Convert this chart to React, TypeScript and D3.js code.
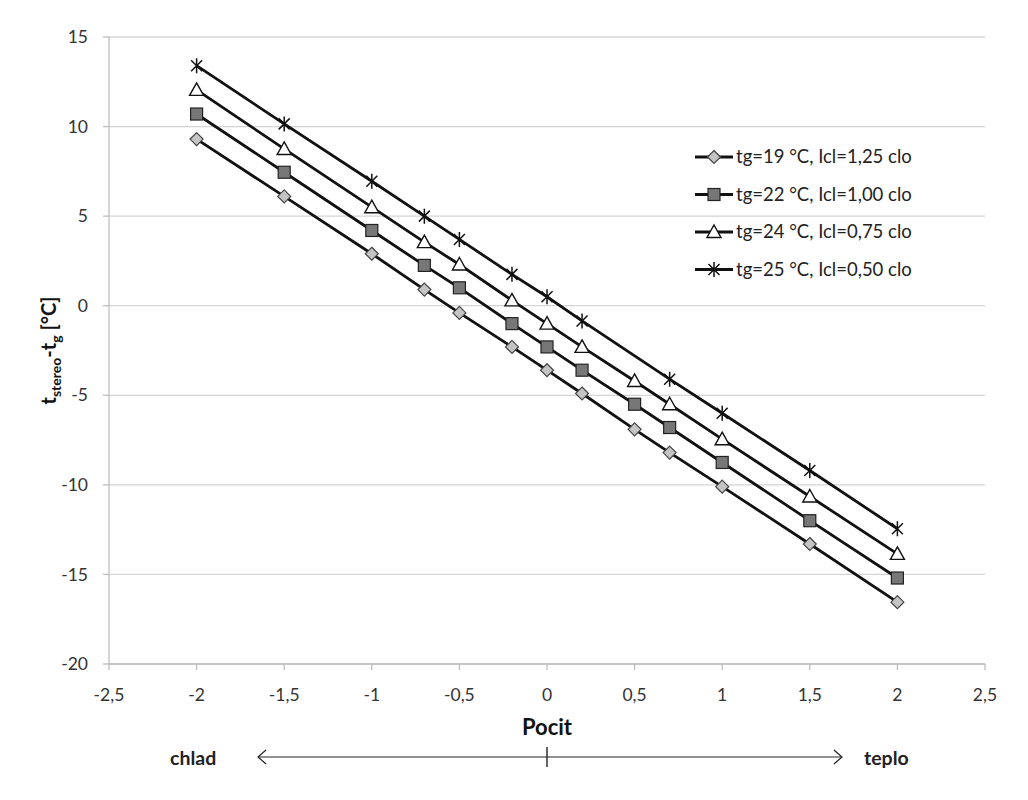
import * as d3 from "d3"

// pocit (x) a rozdíl teplot pro jednotlivé řady
const pocit = [-2, -1.5, -1, -0.7, -0.5, -0.2, 0, 0.2, 0.5, 0.7, 1, 1.5, 2]
const pocitStar = [-2, -1.5, -1, -0.7, -0.5, -0.2, 0, 0.2, 0.7, 1, 1.5, 2]

const s19 = [9.3, 6.1, 2.9, 0.9, -0.4, -2.3, -3.6, -4.9, -6.9, -8.2, -10.1, -13.3, -16.55]
const s22 = [10.7, 7.45, 4.2, 2.25, 1.0, -1.0, -2.3, -3.6, -5.5, -6.8, -8.75, -12.0, -15.2]
const s24 = [12.05, 8.75, 5.5, 3.55, 2.3, 0.3, -1.0, -2.3, -4.2, -5.5, -7.45, -10.65, -13.85]
const s25 = [13.4, 10.15, 6.95, 5.0, 3.7, 1.75, 0.5, -0.85, -4.1, -6.0, -9.2, -12.45]

const legendLabels = [
  "tg=19 °C, Icl=1,25 clo",
  "tg=22 °C, Icl=1,00 clo",
  "tg=24 °C, Icl=0,75 clo",
  "tg=25 °C, Icl=0,50 clo",
]

const xTicks = [-2.5, -2, -1.5, -1, -0.5, 0, 0.5, 1, 1.5, 2, 2.5]
const yTicks = [15, 10, 5, 0, -5, -10, -15, -20]

const W = 1028
const H = 800
const margin = { top: 37, right: 43, bottom: 136, left: 109 }
const font = "Lato, 'Open Sans', sans-serif"

const x = d3.scaleLinear().domain([-2.5, 2.5]).range([margin.left, W - margin.right])
const y = d3.scaleLinear().domain([-20, 15]).range([H - margin.bottom, margin.top])

const fmt = (v: number) => String(v).replace(".", ",")

type Kind = "diamond" | "square" | "triangle" | "star"

function Marker({ kind, cx, cy }: { kind: Kind; cx: number; cy: number }) {
  if (kind === "diamond")
    return <path d={`M${cx},${cy - 6.5}L${cx + 6.5},${cy}L${cx},${cy + 6.5}L${cx - 6.5},${cy}Z`} fill="#c4c4c4" stroke="#444" strokeWidth={1.2} />
  if (kind === "square")
    return <rect x={cx - 6} y={cy - 6} width={12} height={12} fill="#777" stroke="#222" strokeWidth={1.2} />
  if (kind === "triangle")
    return <path d={`M${cx},${cy - 7}L${cx + 7},${cy + 5.5}L${cx - 7},${cy + 5.5}Z`} fill="#fff" stroke="#111" strokeWidth={1.4} />
  return (
    <path
      d={`M${cx - 5.5},${cy - 5.5}L${cx + 5.5},${cy + 5.5}M${cx - 5.5},${cy + 5.5}L${cx + 5.5},${cy - 5.5}M${cx},${cy - 7.5}L${cx},${cy + 7.5}`}
      stroke="#111"
      strokeWidth={1.5}
      fill="none"
    />
  )
}

const series: { xs: number[]; ys: number[]; kind: Kind }[] = [
  { xs: pocit, ys: s19, kind: "diamond" },
  { xs: pocit, ys: s22, kind: "square" },
  { xs: pocit, ys: s24, kind: "triangle" },
  { xs: pocitStar, ys: s25, kind: "star" },
]

export default function App() {
  const line = d3.line<[number, number]>().x(d => x(d[0])).y(d => y(d[1]))
  const x0 = x(-2.5)
  const y0 = y(-20)
  const arrowY = 757
  const ax1 = 258
  const ax2 = 842
  const xMid = x(0)

  return (
    <svg width={W} height={H} style={{ position: "absolute", left: 0, top: 0, background: "#fff" }}>
      <rect width={W} height={H} fill="#fff" />
      {/* mřížka */}
      {yTicks.map(t => (
        <line key={t} x1={x0} x2={x(2.5)} y1={y(t)} y2={y(t)} stroke="#d4d4d4" strokeWidth={1.3} />
      ))}
      {/* osy */}
      <line x1={x0} x2={x0} y1={y(15)} y2={y0} stroke="#bdbdbd" strokeWidth={1.3} />
      <line x1={x0} x2={x(2.5)} y1={y0} y2={y0} stroke="#bdbdbd" strokeWidth={1.3} />
      {yTicks.map(t => (
        <g key={t}>
          <line x1={x0 - 6} x2={x0} y1={y(t)} y2={y(t)} stroke="#bdbdbd" strokeWidth={1.3} />
          <text x={x0 - 21} y={y(t)} dy="0.35em" textAnchor="end" fontFamily={font} fontSize={17.5} fill="#333">
            {fmt(t)}
          </text>
        </g>
      ))}
      {xTicks.map(t => (
        <g key={t}>
          <line x1={x(t)} x2={x(t)} y1={y0} y2={y0 + 6} stroke="#bdbdbd" strokeWidth={1.3} />
          <text x={x(t)} y={y0 + 37} textAnchor="middle" fontFamily={font} fontSize={17.5} fill="#333">
            {fmt(t)}
          </text>
        </g>
      ))}

      {/* řady */}
      {series.map((s, i) => {
        const pts = s.xs.map((v, j) => [v, s.ys[j]] as [number, number])
        return (
          <g key={i}>
            <path d={line(pts) ?? ""} fill="none" stroke="#111" strokeWidth={2.8} />
            {pts.map((p, j) => (
              <Marker key={j} kind={s.kind} cx={x(p[0])} cy={y(p[1])} />
            ))}
          </g>
        )
      })}

      {/* legenda */}
      {legendLabels.map((l, i) => {
        const ly = 157 + i * 37.5
        return (
          <g key={l}>
            <line x1={695} x2={733} y1={ly} y2={ly} stroke="#111" strokeWidth={2.8} />
            <Marker kind={series[i].kind} cx={714} cy={ly} />
            <text x={736} y={ly} dy="0.35em" fontFamily={font} fontSize={18.5} fill="#222">
              {l}
            </text>
          </g>
        )
      })}

      {/* popisky os */}
      <text
        transform={`translate(56,${(y(15) + y0) / 2}) rotate(-90)`}
        textAnchor="middle"
        fontFamily={font}
        fontSize={20}
        fontWeight="bold"
        fill="#111"
      >
        t<tspan fontSize={14} dy={5}>stereo</tspan>
        <tspan dy={-5}>-t</tspan>
        <tspan fontSize={14} dy={5}>g</tspan>
        <tspan dy={-5}> [°C]</tspan>
      </text>
      <text x={xMid} y={735} textAnchor="middle" fontFamily={font} fontSize={22} fontWeight="bold" fill="#111">
        Pocit
      </text>

      {/* šipka chlad – teplo */}
      <line x1={ax1} x2={ax2} y1={arrowY} y2={arrowY} stroke="#222" strokeWidth={1.2} />
      <path d={`M${ax1 + 8},${arrowY - 7}L${ax1},${arrowY}L${ax1 + 8},${arrowY + 7}`} fill="none" stroke="#222" strokeWidth={1.2} />
      <path d={`M${ax2 - 8},${arrowY - 7}L${ax2},${arrowY}L${ax2 - 8},${arrowY + 7}`} fill="none" stroke="#222" strokeWidth={1.2} />
      <line x1={xMid} x2={xMid} y1={arrowY - 10} y2={arrowY + 10} stroke="#222" strokeWidth={1.4} />
      <text x={170} y={765} fontFamily={font} fontSize={19.5} fontWeight="bold" fill="#222">
        chlad
      </text>
      <text x={864} y={765} fontFamily={font} fontSize={19.5} fontWeight="bold" fill="#222">
        teplo
      </text>
    </svg>
  )
}
